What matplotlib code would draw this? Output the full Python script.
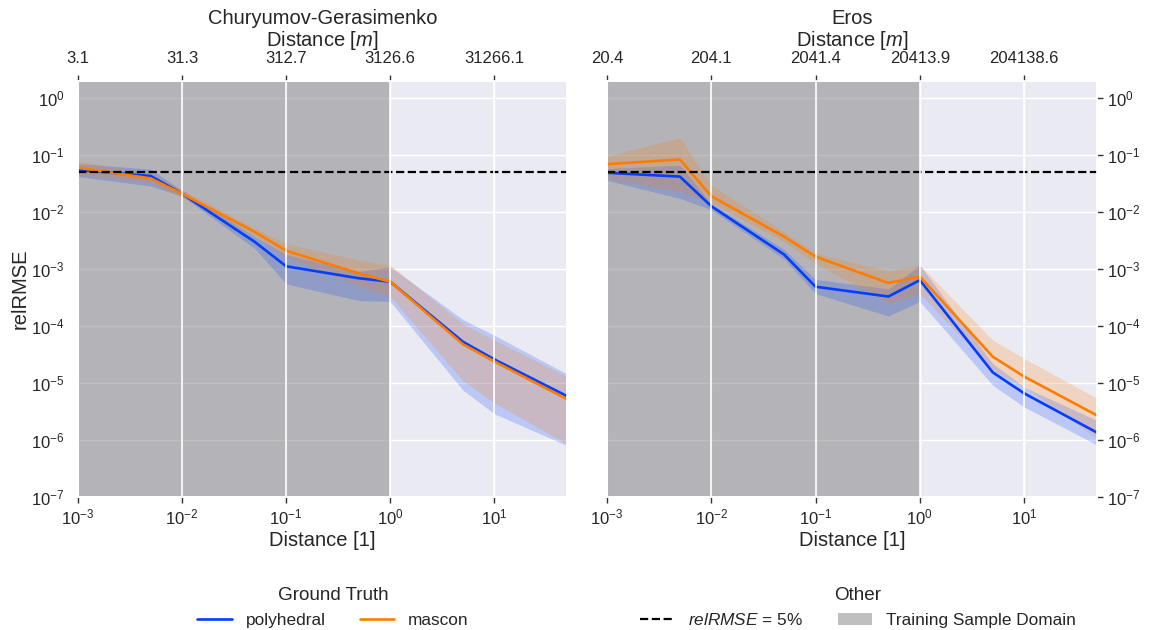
import numpy as np
import matplotlib
matplotlib.use("Agg")
import matplotlib.pyplot as plt
import seaborn as sns
from matplotlib.lines import Line2D
from matplotlib.patches import Patch
from matplotlib.ticker import FixedLocator, FixedFormatter, NullLocator

sns.set_theme(style="darkgrid")
plt.rcParams['font.family'] = ['Liberation Sans', 'DejaVu Sans']
plt.rcParams['mathtext.fontset'] = 'custom'
plt.rcParams['mathtext.rm'] = 'Liberation Sans'
plt.rcParams['mathtext.it'] = 'Liberation Sans:italic'
plt.rcParams['mathtext.bf'] = 'Liberation Sans:bold'

# ---------------- data ----------------
distance = [0.001, 0.005, 0.01, 0.05, 0.1, 0.5, 1.0, 5.0, 10.0, 50.0]

titles = ["Churyumov-Gerasimenko", "Eros"]
scales_m = [3126.61, 20413.86]

# Churyumov-Gerasimenko
cg_poly = [0.055, 0.043, 0.021, 0.0030, 0.00112, 0.00069, 0.00060, 5.3e-5, 2.6e-5, 5.9e-6]
cg_poly_lo = [0.042, 0.0286, 0.019, 0.0023, 0.00055, 0.00028, 0.00027, 7.5e-6, 2.9e-6, 8.0e-7]
cg_poly_hi = [0.071, 0.057, 0.024, 0.0037, 0.0018, 0.0009, 0.0011, 1.3e-4, 6.9e-5, 1.44e-5]
cg_masc = [0.060, 0.039, 0.021, 0.0045, 0.0021, 0.00084, 0.00060, 4.8e-5, 2.4e-5, 5.2e-6]
cg_masc_lo = [0.045, 0.033, 0.018, 0.0038, 0.00165, 0.0005, 0.00033, 1.1e-5, 4.5e-6, 8.5e-7]
cg_masc_hi = [0.079, 0.048, 0.025, 0.0052, 0.0028, 0.00144, 0.00117, 1.1e-4, 5.7e-5, 1.3e-5]

# Eros
er_poly = [0.049, 0.042, 0.0127, 0.0018, 0.00049, 0.00033, 0.00064, 1.54e-5, 6.6e-6, 1.35e-6]
er_poly_lo = [0.036, 0.0174, 0.011, 0.0015, 0.00037, 0.00015, 0.00027, 9.2e-6, 3.8e-6, 8.2e-7]
er_poly_hi = [0.058, 0.067, 0.014, 0.0022, 0.00066, 0.00045, 0.00117, 2.2e-5, 8.5e-6, 2.2e-6]
er_masc = [0.0695, 0.084, 0.019, 0.0037, 0.00165, 0.00057, 0.00074, 2.9e-5, 1.3e-5, 2.7e-6]
er_masc_lo = [0.039, 0.023, 0.0144, 0.0030, 0.00125, 0.00025, 0.00037, 1.7e-5, 8.6e-6, 1.07e-6]
er_masc_hi = [0.096, 0.204, 0.030, 0.0045, 0.0019, 0.00093, 0.00117, 5.7e-5, 2.7e-5, 5.4e-6]

threshold = 0.05
train_lo, train_hi = 0.001, 1.0
bottom_ticks = [1e-3, 1e-2, 1e-1, 1e0, 1e1]

panels = [
    (cg_poly, cg_poly_lo, cg_poly_hi, cg_masc, cg_masc_lo, cg_masc_hi),
    (er_poly, er_poly_lo, er_poly_hi, er_masc, er_masc_lo, er_masc_hi),
]

blue = "#023eff"
orange = "#ff7c00"
LABEL_FS = 14.5

fig = plt.figure(figsize=(11.51, 6.30), dpi=100)
ax_pos = [[78/1151, 1-497/630, (567-78)/1151, (497-81)/630],
          [607/1151, 1-497/630, (1097-607)/1151, (497-81)/630]]

for i, (pos, title, sc, pdata) in enumerate(zip(ax_pos, titles, scales_m, panels)):
    ax = fig.add_axes(pos)
    p, plo, phi, m, mlo, mhi = pdata
    ax.set_xscale('log')
    ax.set_yscale('log')
    ax.axvspan(train_lo, train_hi, color='gray', alpha=0.5, lw=0, zorder=1)
    ax.axhline(threshold, ls='--', color='black', lw=1.6, zorder=4)
    ax.fill_between(distance, plo, phi, color=blue, alpha=0.2, lw=0, zorder=2)
    ax.fill_between(distance, mlo, mhi, color=orange, alpha=0.2, lw=0, zorder=2)
    ax.plot(distance, p, color=blue, lw=1.9, zorder=3)
    ax.plot(distance, m, color=orange, lw=1.9, zorder=3)
    ax.set_xlim(1e-3, 50)
    ax.set_ylim(1e-7, 2)
    ax.xaxis.set_major_locator(FixedLocator(bottom_ticks))
    ax.xaxis.set_minor_locator(NullLocator())
    ax.yaxis.set_minor_locator(NullLocator())
    ax.set_xlabel("Distance [1]", fontsize=LABEL_FS, labelpad=3)
    ax.tick_params(axis='x', bottom=True, length=4, width=1, color='#333333', labelsize=12)
    if i == 0:
        ax.set_ylabel("relRMSE", fontsize=LABEL_FS, labelpad=1)
        ax.tick_params(axis='y', left=False, labelsize=12)
    else:
        ax.yaxis.tick_right()
        ax.tick_params(axis='y', right=True, left=False, length=4, width=1,
                       color='#333333', labelsize=12)
    ax2 = ax.twiny()
    ax2.set_xscale('log')
    ax2.set_xlim(ax.get_xlim())
    ax2.xaxis.set_major_locator(FixedLocator(bottom_ticks))
    ax2.xaxis.set_minor_locator(NullLocator())
    ax2.xaxis.set_major_formatter(FixedFormatter([f"{t*sc:.1f}" for t in bottom_ticks]))
    ax2.tick_params(axis='x', top=True, length=4, width=1, color='#333333',
                    labelsize=12, pad=6.5)
    ax2.set_xlabel(title + "\nDistance [$m$]", fontsize=LABEL_FS, labelpad=4,
                   linespacing=1.05)
    ax2.grid(True, axis='x', color='white', lw=1.2)

h1 = [Line2D([], [], color=blue, lw=1.9), Line2D([], [], color=orange, lw=1.9)]
leg1 = fig.legend(h1, ["polyhedral", "mascon"], title="Ground Truth", ncol=2,
                  frameon=False, loc='center', bbox_to_anchor=(333/1151, 0.036),
                  fontsize=12.4, title_fontsize=13.6, columnspacing=2.0)
h2 = [Line2D([], [], color='black', ls='--', lw=1.6),
      Patch(facecolor='gray', alpha=0.5, lw=0)]
leg2 = fig.legend(h2, [r"$relRMSE$ = 5%", "Training Sample Domain"], title="Other", ncol=2,
                  frameon=False, loc='center', bbox_to_anchor=(858/1151, 0.036),
                  fontsize=12.4, title_fontsize=13.6, columnspacing=2.0)

fig.savefig("out.png", dpi=100)
